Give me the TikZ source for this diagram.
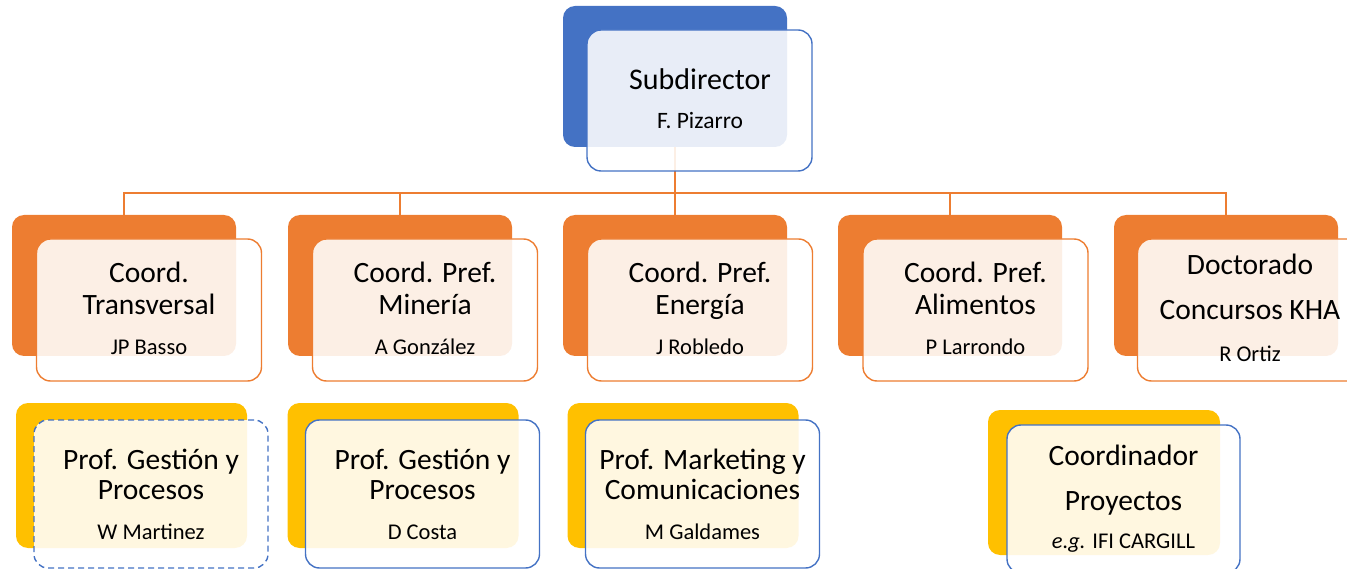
\documentclass[tikz,border=0pt]{standalone}
\usepackage{fontspec}
\setmainfont{Carlito}

\definecolor{subblue}{HTML}{4472C4}
\definecolor{coorange}{HTML}{ED7D31}
\definecolor{profyellow}{HTML}{FFC000}

\begin{document}
\begin{tikzpicture}[x=1pt,y=-1pt,
  back/.style={rectangle, rounded corners=12pt, inner sep=0pt, outer sep=0pt},
  front/.style={rectangle, rounded corners=14pt, fill=white, fill opacity=0.88, line width=1.4pt, inner sep=0pt, outer sep=0pt},
  conn/.style={coorange, line width=1.5pt},
  title/.style={font=\fontsize{29.5}{32}\selectfont, anchor=base, inner sep=0pt},
  who/.style={font=\fontsize{22.5}{24}\selectfont, anchor=base, inner sep=0pt}]

\useasboundingbox (0,0) rectangle (1347,569);

% back boxes
\node[back, fill=subblue, minimum width=224, minimum height=141] (subB) at (675,76.5) {};

\node[back, fill=coorange, minimum width=224, minimum height=141] (c1B) at (124,285.5) {};
\node[back, fill=coorange, minimum width=224, minimum height=141] (c2B) at (400,285.5) {};
\node[back, fill=coorange, minimum width=224, minimum height=141] (c3B) at (675,285.5) {};
\node[back, fill=coorange, minimum width=224, minimum height=141] (c4B) at (950,285.5) {};
\node[back, fill=coorange, minimum width=224, minimum height=141] (c5B) at (1226,285.5) {};

\node[back, fill=profyellow, minimum width=231, minimum height=145] (p1B) at (131.5,475.5) {};
\node[back, fill=profyellow, minimum width=231, minimum height=145] (p2B) at (403,475.5) {};
\node[back, fill=profyellow, minimum width=231, minimum height=145] (p3B) at (683,475.5) {};
\node[back, fill=profyellow, minimum width=232, minimum height=145] (p4B) at (1104,482.5) {};

% connectors
\coordinate (bus) at (675,193);
\draw[conn] (subB.south) -- (bus);
\foreach \c in {c1B,c2B,c3B,c4B,c5B}
  \draw[conn] (bus) -| (\c.north);

% front boxes
\node[front, draw=subblue, minimum width=225, minimum height=141] (subF) at (699.5,100.5) {};

\node[front, draw=coorange, minimum width=225, minimum height=142] (c1F) at (149,310) {};
\node[front, draw=coorange, minimum width=225, minimum height=142] (c2F) at (425,310) {};
\node[front, draw=coorange, minimum width=225, minimum height=142] (c3F) at (700,310) {};
\node[front, draw=coorange, minimum width=225, minimum height=142] (c4F) at (975.5,310) {};
\node[front, draw=coorange, minimum width=225, minimum height=142] (c5F) at (1250,310) {};

\node[front, draw=subblue, dashed, dash pattern=on 6pt off 4pt, minimum width=234, minimum height=148] (p1F) at (151,494) {};
\node[front, draw=subblue, minimum width=234, minimum height=148] (p2F) at (422.5,494) {};
\node[front, draw=subblue, minimum width=234, minimum height=148] (p3F) at (702.5,494) {};
\node[front, draw=subblue, minimum width=233, minimum height=148] (p4F) at (1123.5,499) {};

% texts
\node[title, font=\fontsize{30}{32}\selectfont] (subT) at (700,90) {Subdirector};
\node[who, font=\fontsize{23.5}{24}\selectfont] (subN) at (700,129) {F. Pizarro};

\node[title] (c1T) at (149,283) {Coord.};
\node[title] (c1U) at (149,315) {Transversal};
\node[who] (c1N) at (149,355) {JP Basso};

\node[title] (c2T) at (425,283) {Coord. Pref.};
\node[title] (c2U) at (425,315) {Minería};
\node[who] (c2N) at (425,355) {A González};

\node[title] (c3T) at (700,283) {Coord. Pref.};
\node[title] (c3U) at (700,315) {Energía};
\node[who] (c3N) at (700,355) {J Robledo};

\node[title] (c4T) at (975.5,283) {Coord. Pref.};
\node[title] (c4U) at (975.5,315) {Alimentos};
\node[who] (c4N) at (975.5,355) {P Larrondo};

\node[title] (c5T) at (1250,275) {Doctorado};
\node[title] (c5U) at (1250,320) {Concursos KHA};
\node[who] (c5N) at (1250,362) {R Ortiz};

\node[title] (p1T) at (151,469) {Prof. Gestión y};
\node[title] (p1U) at (151,499) {Procesos};
\node[who] (p1N) at (151,539) {W Martinez};

\node[title] (p2T) at (422.5,469) {Prof. Gestión y};
\node[title] (p2U) at (422.5,499) {Procesos};
\node[who] (p2N) at (422.5,539) {D Costa};

\node[title] (p3T) at (702.5,469) {Prof. Marketing y};
\node[title] (p3U) at (702.5,499) {Comunicaciones};
\node[who] (p3N) at (702.5,539) {M Galdames};

\node[title] (p4T) at (1123.5,465) {Coordinador};
\node[title] (p4U) at (1123.5,510) {Proyectos};
\node[who] (p4N) at (1123.5,548) {\textit{e.g.} IFI CARGILL};

\end{tikzpicture}
\end{document}
